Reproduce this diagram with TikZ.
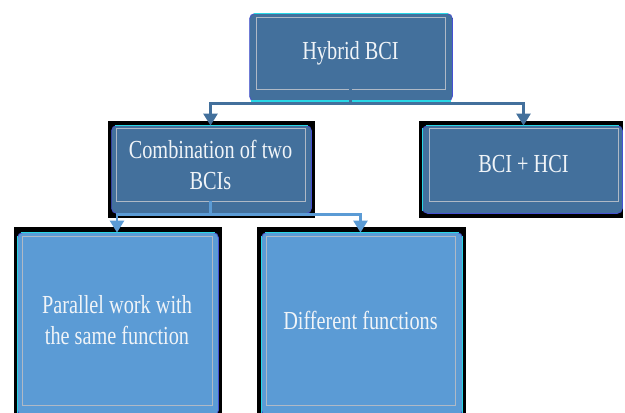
\documentclass[tikz,border=0pt]{standalone}
\usepackage{fontspec}
\setmainfont[FakeStretch=0.78]{Liberation Serif}
\usetikzlibrary{arrows.meta,backgrounds}
\definecolor{darkbox}{RGB}{67,112,156}
\definecolor{lightbox}{RGB}{91,155,213}
\definecolor{edgecyan}{RGB}{40,215,230}
\definecolor{edgeblue}{RGB}{70,80,210}
\definecolor{innergray}{RGB}{175,185,198}
\definecolor{txtwhite}{RGB}{240,244,248}
\tikzset{
  inner/.style={draw=innergray, line width=0.8pt, inner sep=0pt, align=center,
    text=txtwhite, font=\fontsize{26}{31}\selectfont},
  darkfill/.style={fill=darkbox, draw=edgeblue, line width=0.7pt, rounded corners=5pt},
  lightfill/.style={fill=lightbox, draw=edgeblue, line width=0.7pt, rounded corners=5pt},
  cyanedge/.style={draw=edgecyan, line width=1.2pt},
  shadowbox/.style={fill=black},
  topconn/.style={draw=darkbox, line width=2.5pt, -{Triangle[width=14pt,length=12pt]}},
  botconn/.style={draw=lightbox, line width=2.5pt, -{Triangle[width=14pt,length=12pt]}},
}
\begin{document}
\begin{tikzpicture}[x=1pt,y=-1pt]
\useasboundingbox (0,0) rectangle (625,413);
% inner framed text nodes
\node[inner, minimum width=189pt, minimum height=72pt] (hyb) at (350.5,53) {Hybrid BCI};
\node[inner, minimum width=189pt, minimum height=73pt] (comb) at (210.5,164.5) {Combination of two\\BCIs};
\node[inner, minimum width=189pt, minimum height=73pt] (hci) at (523.5,164.5) {BCI + HCI};
\node[inner, minimum width=190pt, minimum height=169pt] (par) at (117,320.5) {Parallel work with\\the same function};
\node[inner, minimum width=189pt, minimum height=169pt] (dif) at (360.5,320.5) {Different functions};
\begin{scope}[on background layer]
  \fill[white] (0,0) rectangle (625,413);
  % black backings
  \fill[shadowbox] (249.5,18) rectangle (453,96);
  \fill[shadowbox] (108,121) rectangle (315,218);
  \fill[shadowbox] (419,121) rectangle (623,218);
  \fill[shadowbox] (14,227) rectangle (222,414);
  \fill[shadowbox] (257,227) rectangle (466,414);
  % rounded fills
  \path[darkfill] ([shift={(-6,-3)}]hyb.north west) rectangle ([shift={(7,12)}]hyb.south east);
  \path[darkfill] ([shift={(-4,-2)}]comb.north west) rectangle ([shift={(6,12)}]comb.south east);
  \path[darkfill] ([shift={(-6,-2)}]hci.north west) rectangle ([shift={(4,12)}]hci.south east);
  \path[lightfill] ([shift={(-4,-3)}]par.north west) rectangle ([shift={(6,10)}]par.south east);
  \path[lightfill] ([shift={(-4,-3)}]dif.north west) rectangle ([shift={(7,10)}]dif.south east);
  % cyan top edges
  \path[cyanedge] ([shift={(-2,-3)}]hyb.north west) -- ([shift={(3,-3)}]hyb.north east);
  \path[cyanedge] ([shift={(-5,11.5)}]hyb.south west) -- ([shift={(6,11.5)}]hyb.south east);
  \path[cyanedge] ([shift={(-1,-2)}]comb.north west) -- ([shift={(3,-2)}]comb.north east);
  \path[cyanedge] ([shift={(-3,-2)}]hci.north west) -- ([shift={(1,-2)}]hci.north east);
  \path[cyanedge] ([shift={(-6,0)}]hci.north west) -- ([shift={(-6,10)}]hci.south west);
  \path[cyanedge] ([shift={(-1,-3)}]par.north west) -- ([shift={(3,-3)}]par.north east);
  \path[cyanedge] ([shift={(-4,0)}]par.north west) -- ([shift={(-4,8)}]par.south west);
  \path[cyanedge] ([shift={(-1,-3)}]dif.north west) -- ([shift={(4,-3)}]dif.north east);
  \path[cyanedge] ([shift={(-4,0)}]dif.north west) -- ([shift={(-4,8)}]dif.south west);
  \path[cyanedge] ([shift={(7,0)}]dif.north east) -- ([shift={(7,8)}]dif.south east);
\end{scope}
% connectors
\coordinate (hybj) at ([yshift=-14pt]hyb.south);
\draw[topconn] (hyb.south) -- (hybj) -| ([yshift=2pt]comb.north);
\draw[topconn] (hybj) -| ([yshift=2pt]hci.north);
\coordinate (combj) at ([yshift=-13pt]comb.south);
\draw[botconn] (comb.south) -- (combj) -| ([yshift=3pt]par.north);
\draw[botconn] (combj) -| ([yshift=3pt]dif.north);
\end{tikzpicture}
\end{document}
